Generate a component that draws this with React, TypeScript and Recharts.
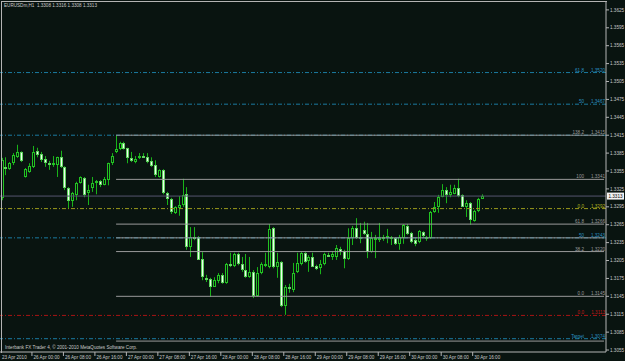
import React from 'react'
import { ComposedChart, Bar, XAxis, YAxis, ReferenceLine } from 'recharts'

const BG = '#091410'
const FRAME = '#b4b4b4'
const TEXT = '#c8c8c8'
const WICK = '#19b319'
const BULL_EDGE = '#22c322'
const BEAR_FILL = '#eefdee'
const FIB_GRAY = '#9a9a9a'
const FIB_BLUE = '#1b7aa0'
const FIB_YELLOW = '#9c9c1c'
const FIB_RED = '#a81414'
const BID = '#55556e'
const FONT = '"Liberation Sans", Arial, sans-serif'

// EURUSDm H1, 23 Apr 16:00 .. 30 Apr 18:00
const opens = [
  1.3310, 1.3361, 1.3358, 1.3368, 1.3378, 1.3387, 1.3345, 1.3353, 1.3362, 1.3389,
  1.3383, 1.3375, 1.3368, 1.3365, 1.3365, 1.3378, 1.3362, 1.3327, 1.3305, 1.3315,
  1.3335, 1.3343, 1.3318, 1.3327, 1.3335, 1.3338, 1.3332, 1.3340, 1.3368, 1.3387,
  1.3392, 1.3402, 1.3394, 1.3377, 1.3370, 1.3377, 1.3380, 1.3378, 1.3372, 1.3365,
  1.3345, 1.3357, 1.3318, 1.3308, 1.3285, 1.3293, 1.3298, 1.3316, 1.3228, 1.3244,
  1.3244, 1.3208, 1.3176, 1.3174, 1.3161, 1.3171, 1.3181, 1.3167, 1.3199, 1.3196,
  1.3216, 1.3199, 1.3189, 1.3177, 1.3186, 1.3146, 1.3184, 1.3196, 1.3194, 1.3259,
  1.3194, 1.3202, 1.3129, 1.3161, 1.3156, 1.3186, 1.3199, 1.3218, 1.3204, 1.3211,
  1.3196, 1.3192, 1.3199, 1.3214, 1.3211, 1.3211, 1.3224, 1.3221, 1.3208, 1.3243,
  1.3259, 1.3243, 1.3256, 1.3249, 1.3219, 1.3241, 1.3242, 1.3243, 1.3243, 1.3243,
  1.3243, 1.3233, 1.3243, 1.3263, 1.3251, 1.3239, 1.3236, 1.3253, 1.3241, 1.3243,
  1.3286, 1.3295, 1.3311, 1.3323, 1.3315, 1.3316, 1.3327, 1.3315, 1.3295, 1.3301,
  1.3271, 1.3288, 1.3308,
]
const highs = [
  1.3377, 1.3378, 1.3370, 1.3385, 1.3399, 1.3388, 1.3360, 1.3368, 1.3397, 1.3394,
  1.3387, 1.3380, 1.3372, 1.3380, 1.3379, 1.3389, 1.3363, 1.3328, 1.3320, 1.3337,
  1.3346, 1.3345, 1.3332, 1.3345, 1.3340, 1.3340, 1.3345, 1.3369, 1.3385, 1.3415,
  1.3404, 1.3404, 1.3394, 1.3387, 1.3380, 1.3385, 1.3385, 1.3385, 1.3378, 1.3373,
  1.3358, 1.3358, 1.3320, 1.3310, 1.3296, 1.3313, 1.3342, 1.3328, 1.3261, 1.3261,
  1.3246, 1.3219, 1.3181, 1.3176, 1.3177, 1.3184, 1.3184, 1.3201, 1.3218, 1.3218,
  1.3218, 1.3211, 1.3216, 1.3211, 1.3189, 1.3194, 1.3202, 1.3218, 1.3266, 1.3261,
  1.3218, 1.3204, 1.3164, 1.3166, 1.3201, 1.3218, 1.3219, 1.3219, 1.3214, 1.3218,
  1.3198, 1.3206, 1.3218, 1.3218, 1.3221, 1.3231, 1.3228, 1.3223, 1.3259, 1.3263,
  1.3276, 1.3268, 1.3270, 1.3268, 1.3253, 1.3248, 1.3268, 1.3248, 1.3258, 1.3246,
  1.3244, 1.3248, 1.3266, 1.3266, 1.3253, 1.3243, 1.3256, 1.3254, 1.3246, 1.3288,
  1.3303, 1.3315, 1.3333, 1.3328, 1.3332, 1.3332, 1.3342, 1.3316, 1.3306, 1.3303,
  1.3290, 1.3310, 1.3316,
]
const lows = [
  1.3306, 1.3348, 1.3357, 1.3365, 1.3377, 1.3370, 1.3344, 1.3352, 1.3360, 1.3378,
  1.3370, 1.3362, 1.3357, 1.3362, 1.3345, 1.3360, 1.3323, 1.3293, 1.3295, 1.3306,
  1.3334, 1.3311, 1.3298, 1.3320, 1.3316, 1.3328, 1.3331, 1.3331, 1.3365, 1.3385,
  1.3390, 1.3391, 1.3368, 1.3370, 1.3368, 1.3375, 1.3377, 1.3368, 1.3362, 1.3345,
  1.3344, 1.3316, 1.3298, 1.3283, 1.3283, 1.3280, 1.3295, 1.3223, 1.3211, 1.3239,
  1.3206, 1.3172, 1.3169, 1.3144, 1.3161, 1.3167, 1.3166, 1.3166, 1.3194, 1.3194,
  1.3197, 1.3186, 1.3176, 1.3176, 1.3142, 1.3144, 1.3182, 1.3194, 1.3192, 1.3192,
  1.3176, 1.3127, 1.3114, 1.3151, 1.3152, 1.3184, 1.3197, 1.3201, 1.3186, 1.3194,
  1.3189, 1.3182, 1.3197, 1.3211, 1.3206, 1.3206, 1.3214, 1.3192, 1.3206, 1.3231,
  1.3241, 1.3234, 1.3248, 1.3209, 1.3218, 1.3209, 1.3236, 1.3238, 1.3234, 1.3231,
  1.3231, 1.3223, 1.3233, 1.3248, 1.3234, 1.3229, 1.3234, 1.3243, 1.3238, 1.3241,
  1.3285, 1.3285, 1.3311, 1.3301, 1.3311, 1.3316, 1.3311, 1.3295, 1.3278, 1.3265,
  1.3270, 1.3286, 1.3308,
]
const closes = [
  1.3373, 1.3358, 1.3368, 1.3382, 1.3387, 1.3372, 1.3358, 1.3363, 1.3387, 1.3382,
  1.3373, 1.3368, 1.3367, 1.3368, 1.3378, 1.3362, 1.3327, 1.3305, 1.3318, 1.3335,
  1.3345, 1.3315, 1.3323, 1.3335, 1.3338, 1.3332, 1.3342, 1.3368, 1.3380, 1.3392,
  1.3402, 1.3392, 1.3377, 1.3372, 1.3375, 1.3380, 1.3378, 1.3370, 1.3363, 1.3348,
  1.3357, 1.3318, 1.3308, 1.3286, 1.3295, 1.3298, 1.3315, 1.3228, 1.3244, 1.3243,
  1.3206, 1.3177, 1.3174, 1.3161, 1.3172, 1.3181, 1.3167, 1.3199, 1.3197, 1.3216,
  1.3199, 1.3189, 1.3177, 1.3186, 1.3146, 1.3184, 1.3199, 1.3199, 1.3258, 1.3194,
  1.3202, 1.3129, 1.3161, 1.3157, 1.3184, 1.3201, 1.3218, 1.3202, 1.3211, 1.3194,
  1.3191, 1.3199, 1.3216, 1.3213, 1.3216, 1.3226, 1.3219, 1.3208, 1.3243, 1.3259,
  1.3243, 1.3244, 1.3249, 1.3219, 1.3243, 1.3243, 1.3243, 1.3244, 1.3246, 1.3244,
  1.3233, 1.3244, 1.3264, 1.3249, 1.3236, 1.3233, 1.3254, 1.3246, 1.3244, 1.3286,
  1.3295, 1.3311, 1.3323, 1.3315, 1.3320, 1.3327, 1.3313, 1.3295, 1.3301, 1.3273,
  1.3288, 1.3308, 1.3313,
]

const timeTicks = [0, 8, 16, 24, 32, 40, 48, 56, 64, 72, 80, 88, 96, 104, 112, 120]
const timeLabels = [
  '23 Apr 2010', '26 Apr 00:00', '26 Apr 08:00', '26 Apr 16:00', '27 Apr 00:00', '27 Apr 08:00',
  '27 Apr 16:00', '28 Apr 00:00', '28 Apr 08:00', '28 Apr 16:00', '29 Apr 00:00', '29 Apr 08:00',
  '29 Apr 16:00', '30 Apr 00:00', '30 Apr 08:00', '30 Apr 16:00',
]
const priceTicks = [
  1.3055, 1.3085, 1.3115, 1.3145, 1.3175, 1.3205, 1.3235, 1.3265, 1.3295, 1.3325,
  1.3355, 1.3385, 1.3415, 1.3445, 1.3475, 1.3505, 1.3535, 1.3565, 1.3595, 1.3625,
]

// fibo levels (an empty level name = label hidden under another one)
const grayLevels = [
  { level: '138.2', price: 1.3415 },
  { level: '100', price: 1.3341 },
  { level: '61.8', price: 1.3266 },
  { level: '', price: 1.3243 },
  { level: '38.2', price: 1.3220 },
  { level: '0.0', price: 1.3145 },
  { level: '', price: 1.3070 },
]
const blueLevels = [
  { level: '61.8', price: 1.3520 },
  { level: '50', price: 1.3467 },
  { level: '', price: 1.3415 },
  { level: '50', price: 1.3243 },
  { level: 'Target', price: 1.3074 },
]
const yellowLevels = [{ level: '0.0', price: 1.3292 }]
const redLevels = [{ level: '0.0', price: 1.3113 }]
const bidPrice = 1.3313
const header = 'EURUSDm,H1  1.3308 1.3316 1.3308 1.3313'
const copyright = 'Interbank FX Trader 4, © 2001-2010 MetaQuotes Software Corp.'

const SLOTS = 154
const FIB_START = 29

const table = Array.from({ length: SLOTS }, (_, i) =>
  i < opens.length
    ? { i, o: opens[i], h: highs[i], l: lows[i], c: closes[i], range: [lows[i], highs[i]] }
    : { i, range: null }
)

const Candle = (props: any) => {
  const { x, y, width, height, payload } = props
  if (payload == null || payload.o == null) return null
  const top = Math.min(y, y + height)
  const span = Math.abs(height)
  const yOf = (p: number) => payload.h === payload.l ? top : top + ((payload.h - p) / (payload.h - payload.l)) * span
  const cx = Math.floor(x + width / 2) + 0.5
  const bear = payload.c < payload.o
  const b1 = Math.round(yOf(Math.max(payload.o, payload.c))) + 0.5
  const b2 = Math.max(b1 + 1, Math.round(yOf(Math.min(payload.o, payload.c))) - 0.5)
  return (
    <g>
      <line x1={cx} x2={cx} y1={top} y2={top + span} stroke={WICK} strokeWidth={1} />
      <rect x={cx - 1} y={b1} width={2} height={b2 - b1} fill={bear ? BEAR_FILL : BG} stroke={bear ? '#5fd35f' : BULL_EDGE} strokeWidth={1} />
    </g>
  )
}

const TimeTick = (props: any) => {
  const { x, y, payload } = props
  const idx = timeTicks.indexOf(payload.value)
  const left = x - 2
  return (
    <g>
      {idx > 0 && <line x1={left + 0.5} x2={left + 0.5} y1={y} y2={y + 4} stroke={FRAME} />}
      <text x={left + 2} y={y + 6.5} fontSize={4.6} fill={TEXT} fontFamily={FONT}>{timeLabels[idx]}</text>
    </g>
  )
}

const LevelLabel = (props: any) => {
  const { viewBox, level, value, color } = props
  if (!level) return null
  const y = viewBox.y
  return (
    <g fontFamily={FONT} fontSize={4.6} fill={color}>
      <text x={584} y={y - 1} textAnchor="end">{level}</text>
      <text x={605} y={y - 1} textAnchor="end">{value}</text>
    </g>
  )
}

const BidLabel = (props: any) => {
  const y = props.viewBox.y
  return (
    <g>
      <rect x={607} y={y - 3.5} width={17} height={7} fill="#f2f2f2" />
      <text x={615.5} y={y + 1.7} textAnchor="middle" fontSize={4.6} fontFamily={FONT} fill="#000">{bidPrice.toFixed(4)}</text>
    </g>
  )
}

export default function App() {
  return (
    <div style={{ position: 'absolute', left: 0, top: 0, width: 625, height: 361, background: BG, overflow: 'hidden' }}>
      <ComposedChart width={625} height={361} data={table} margin={{ top: 1, right: 0, bottom: 0, left: 0 }}
        barCategoryGap={0} barGap={0}>
        <XAxis dataKey="i" type="category" ticks={timeTicks} interval={0} height={9} tickSize={0} tickMargin={0}
          tick={<TimeTick />} tickLine={false} axisLine={{ stroke: FRAME }} />
        <YAxis orientation="right" type="number" domain={[1.30517, 1.36399]} allowDataOverflow ticks={priceTicks}
          width={19} tickSize={3} tickMargin={1} tickFormatter={(v: number) => v.toFixed(4)}
          tick={{ fontSize: 4.6, fill: TEXT, fontFamily: FONT }} tickLine={{ stroke: FRAME }} axisLine={{ stroke: FRAME }} />
        {blueLevels.map((f, k) => (
          <ReferenceLine key={'b' + k} y={f.price} stroke={FIB_BLUE} strokeDasharray="4 2 1 2"
            label={<LevelLabel level={f.level} value={f.price.toFixed(4)} color="#2a90c0" />} />
        ))}
        {yellowLevels.map((f, k) => (
          <ReferenceLine key={'y' + k} y={f.price} stroke={FIB_YELLOW} strokeDasharray="4 2 1 2"
            label={<LevelLabel level={f.level} value={f.price.toFixed(4)} color="#b4b420" />} />
        ))}
        {redLevels.map((f, k) => (
          <ReferenceLine key={'r' + k} y={f.price} stroke={FIB_RED} strokeDasharray="4 2 1 2"
            label={<LevelLabel level={f.level} value={f.price.toFixed(4)} color="#c01818" />} />
        ))}
        {grayLevels.map((f, k) => (
          <ReferenceLine key={'g' + k} segment={[{ x: FIB_START, y: f.price }, { x: SLOTS - 1, y: f.price }]} stroke={FIB_GRAY}
            label={<LevelLabel level={f.level} value={f.price.toFixed(4)} color={FIB_GRAY} />} />
        ))}
        <ReferenceLine y={bidPrice} stroke={BID} label={<BidLabel />} />
        <Bar dataKey="range" shape={<Candle />} isAnimationActive={false} />
      </ComposedChart>
      <div style={{ position: 'absolute', left: 1, top: 1, width: 605, height: 351, borderLeft: `1px solid ${FRAME}`, borderTop: `1px solid ${FRAME}`, pointerEvents: 'none' }} />
      <div style={{ position: 'absolute', left: 4, top: 2.5, fontSize: 4.6, lineHeight: '5px', color: TEXT, fontFamily: FONT, whiteSpace: 'pre' }}>{header}</div>
      <div style={{ position: 'absolute', left: 5, top: 344.5, fontSize: 4.6, lineHeight: '5px', color: TEXT, fontFamily: FONT, whiteSpace: 'pre' }}>{copyright}</div>
    </div>
  )
}
